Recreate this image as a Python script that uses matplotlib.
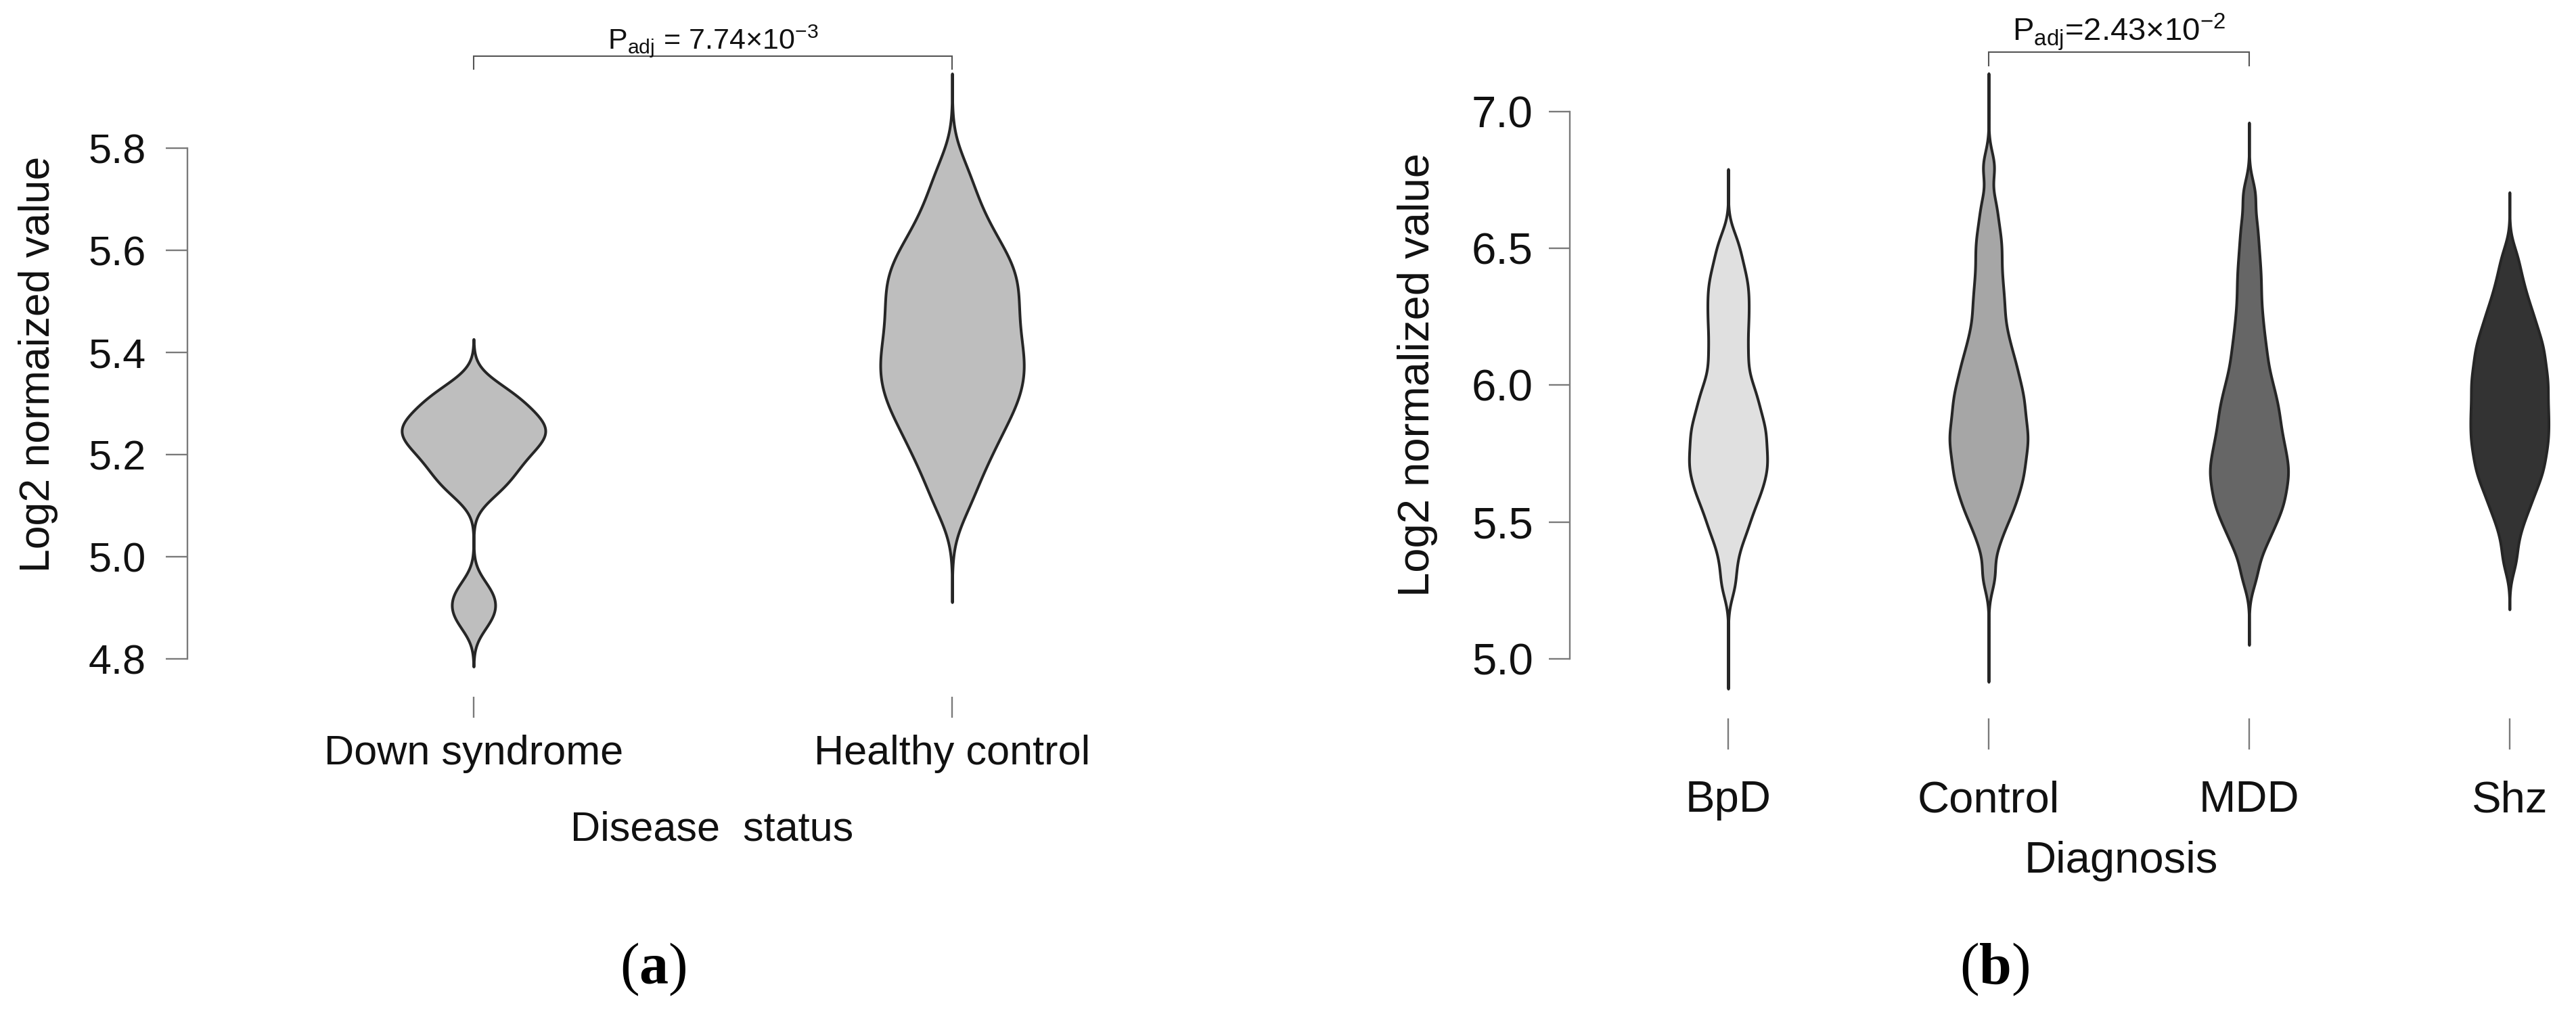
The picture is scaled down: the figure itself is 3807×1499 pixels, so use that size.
import numpy as np
import matplotlib
matplotlib.use("Agg")
import matplotlib.pyplot as plt
from matplotlib import mlab

plt.rcParams["font.family"] = ["Liberation Sans", "DejaVu Sans"]
plt.rcParams["mathtext.fontset"] = "custom"
plt.rcParams["mathtext.rm"] = "Liberation Sans"
plt.rcParams["mathtext.bf"] = "Liberation Serif:bold"

# ---- (a) disease status ----
status = ["Down syndrome", "Healthy control"]
down_syndrome = [4.875, 4.905, 4.935, 5.125, 5.145, 5.165, 5.18, 5.195, 5.21, 5.22,
                 5.23, 5.24, 5.25, 5.255, 5.265, 5.275, 5.29, 5.305, 5.315, 5.335]
healthy_control = [5.10, 5.15, 5.19, 5.215, 5.24, 5.265, 5.285, 5.30, 5.315, 5.335,
                   5.35, 5.365, 5.38, 5.395, 5.41, 5.43, 5.445, 5.465, 5.48, 5.50,
                   5.515, 5.535, 5.55, 5.565, 5.585, 5.605, 5.63, 5.66, 5.70, 5.755]
status_bw = [0.03, 0.05]
status_span = [(4.785, 5.426), (4.911, 5.946)]
status_ticks = [4.8, 5.0, 5.2, 5.4, 5.6, 5.8]
padj_a = r"P$_{\mathrm{adj}}$ = 7.74×10$^{\mathrm{-3}}$"

# ---- (b) diagnosis ----
diagnosis = ["BpD", "Control", "MDD", "Shz"]
bpd = [5.27, 5.36, 5.43, 5.47, 5.50, 5.54, 5.56, 5.59, 5.61, 5.63, 5.65, 5.67, 5.69, 5.71,
       5.72, 5.74, 5.76, 5.78, 5.80, 5.82, 5.84, 5.85, 5.87, 5.90, 5.92, 5.94, 5.97, 5.99,
       6.02, 6.06, 6.10, 6.13, 6.17, 6.21, 6.24, 6.28, 6.31, 6.35, 6.38, 6.42, 6.47, 6.53]
control = [5.30, 5.41, 5.47, 5.51, 5.54, 5.57, 5.59, 5.62, 5.64, 5.66, 5.68, 5.70, 5.72,
           5.74, 5.76, 5.78, 5.80, 5.81, 5.83, 5.85, 5.87, 5.89, 5.91, 5.93, 5.95, 5.97,
           5.99, 6.01, 6.04, 6.06, 6.09, 6.11, 6.15, 6.18, 6.22, 6.27, 6.31, 6.36, 6.41,
           6.47, 6.52, 6.58, 6.66, 6.80]
mdd = [5.30, 5.38, 5.43, 5.46, 5.49, 5.52, 5.54, 5.56, 5.58, 5.60, 5.62, 5.64, 5.66, 5.68,
       5.69, 5.71, 5.73, 5.75, 5.77, 5.79, 5.81, 5.83, 5.86, 5.88, 5.90, 5.93, 5.95, 5.98,
       6.01, 6.04, 6.08, 6.12, 6.16, 6.21, 6.26, 6.32, 6.38, 6.44, 6.51, 6.59, 6.70]
shz = [5.36, 5.45, 5.51, 5.55, 5.58, 5.61, 5.64, 5.66, 5.68, 5.70, 5.72, 5.74, 5.76, 5.78,
       5.80, 5.81, 5.83, 5.85, 5.87, 5.89, 5.90, 5.92, 5.94, 5.96, 5.98, 6.00, 6.01, 6.03,
       6.05, 6.07, 6.09, 6.11, 6.13, 6.15, 6.17, 6.19, 6.22, 6.25, 6.27, 6.31, 6.35, 6.40,
       6.47]
diagnosis_bw = [0.055, 0.055, 0.055, 0.055]
diagnosis_span = [(4.89, 6.79), (4.915, 7.14), (5.05, 6.96), (5.18, 6.705)]
diagnosis_colors = ["#e0e0e0", "#a6a6a6", "#666666", "#333333"]
diagnosis_ticks = [5.0, 5.5, 6.0, 6.5, 7.0]
padj_b = r"P$_{\mathrm{adj}}$=2.43×10$^{\mathrm{-2}}$"

W, H = 3807, 1499
EDGE = "#262626"
AXIS = "#7a7a7a"

fig = plt.figure(figsize=(W / 100, H / 100), dpi=100)


def px_axes(left, top, right, bottom):
    # pixel box (from top-left) -> figure axes
    return fig.add_axes([left / W, 1 - bottom / H, (right - left) / W, (bottom - top) / H])


def kde_stats(values, bw, span):
    values = np.asarray(values, dtype=float)
    kde = mlab.GaussianKDE(values, bw_method=bw / values.std(ddof=1))
    coords = np.linspace(span[0], span[1], 700)
    return {"coords": coords, "vals": kde.evaluate(coords),
            "mean": values.mean(), "median": np.median(values),
            "min": values.min(), "max": values.max()}


def draw_violins(ax, groups, bws, spans, colors):
    stats = [kde_stats(v, b, s) for v, b, s in zip(groups, bws, spans)]
    parts = ax.violin(stats, positions=range(len(groups)), widths=0.30, showextrema=False)
    for body, c in zip(parts["bodies"], colors):
        body.set_facecolor(c)
        body.set_edgecolor(EDGE)
        body.set_linewidth(2.9)
        body.set_alpha(1)


def style_axes(ax, names, ticks, fs, ylen, ypad, xlen, xpad, xoffset=0):
    for s in ["top", "right", "bottom"]:
        ax.spines[s].set_visible(False)
    ax.spines["bottom"].set_position(("outward", xoffset))
    ax.spines["left"].set_bounds(ticks[0], ticks[-1])
    ax.spines["left"].set_color(AXIS)
    ax.spines["left"].set_linewidth(1.7)
    ax.set_yticks(ticks, [f"{t:.1f}" for t in ticks])
    ax.set_xticks(range(len(names)), names)
    ax.tick_params(axis="y", length=ylen, width=1.7, color=AXIS, pad=ypad,
                   labelsize=fs, labelcolor="#111111")
    ax.tick_params(axis="x", length=xlen, width=1.7, color=AXIS, pad=xpad,
                   labelsize=fs, labelcolor="#111111")
    ax.set_facecolor("none")


def bracket(ax, x0, x1, y, leg, label, ty, fs):
    ax.plot([x0, x0, x1, x1], [y - leg, y, y, y - leg], color="#555555", lw=1.5,
            clip_on=False, solid_joinstyle="miter")
    ax.text((x0 + x1) / 2, ty, label, ha="center", va="baseline", fontsize=fs,
            color="#111111", clip_on=False)


# ---- panel (a) ----
ax_a = px_axes(277, 68, 1690, 1030)
draw_violins(ax_a, [down_syndrome, healthy_control], status_bw, status_span,
             ["#bebebe", "#bebebe"])
ax_a.set_xlim(-0.598, 1.40)
ax_a.set_ylim(4.726, 6.0)
style_axes(ax_a, status, status_ticks, 44, 23, 21, 22, 18)
ax_a.set_ylabel("Log2 normaized value", fontsize=45, color="#111111")
ax_a.yaxis.set_label_coords(-0.1564, 0.511)
ax_a.yaxis.label.set_verticalalignment("center")
ax_a.set_xlabel("Disease  status", fontsize=44, color="#111111")
ax_a.xaxis.set_label_coords(0.5485, -0.205)
ax_a.xaxis.label.set_verticalalignment("center")
bracket(ax_a, 0, 1, 5.98, 0.025, padj_a, 5.995, 31)

# ---- panel (b) ----
ax_b = px_axes(2320, 60, 3805, 1045)
draw_violins(ax_b, [bpd, control, mdd, shz], diagnosis_bw, diagnosis_span, diagnosis_colors)
ax_b.set_xlim(-0.608, 3.25)
ax_b.set_ylim(4.8237, 7.26)
style_axes(ax_b, diagnosis, diagnosis_ticks, 47, 22, 17, 33, 33, xoffset=12)
ax_b.set_ylabel("Log2 normalized value", fontsize=47, color="#111111")
ax_b.yaxis.set_label_coords(-0.1515, 0.498)
ax_b.yaxis.label.set_verticalalignment("center")
ax_b.set_xlabel("Diagnosis", fontsize=47, color="#111111")
ax_b.xaxis.set_label_coords(0.5488, -0.231)
ax_b.xaxis.label.set_verticalalignment("center")
bracket(ax_b, 1, 2, 7.2176, 0.05, padj_b, 7.26, 34)

# panel letters
for x, letter in [(965, "a"), (2948, "b")]:
    fig.text(x / W, 1 - 1433 / H, "($\\mathbf{%s}$)" % letter, ha="center", va="center",
             fontsize=62, family="Liberation Serif", color="black")

fig.savefig("out.png", dpi=100)
